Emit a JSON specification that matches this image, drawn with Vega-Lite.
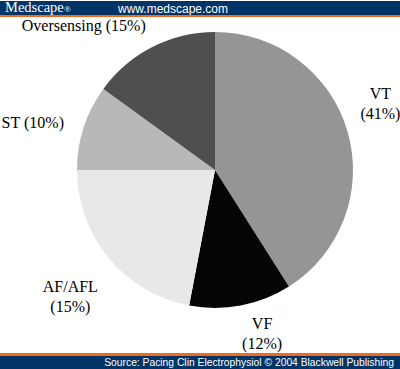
{
  "$schema": "https://vega.github.io/schema/vega-lite/v6.json",
  "padding": 0,
  "background": "white",
  "spacing": 0,
  "bounds": "flush",
  "align": "each",
  "columns": 2,
  "config": {"view": {"stroke": null}, "concat": {"spacing": 0}},
  "concat": [
    {
      "width": 30, "height": 14,
      "view": {"fill": "#003366", "stroke": null},
      "data": {"values": [{}]}, "mark": "text", "encoding": {}
    },
    {
      "width": 370, "height": 14,
      "view": {"fill": "#003366", "stroke": null},
      "data": {"values": [{"brand": "Medscape", "reg": "®", "site": "www.medscape.com"}]},
      "layer": [
        {
          "mark": {"type": "text", "align": "left", "baseline": "middle", "dx": -210, "dy": 0, "font": "Liberation Serif", "fontSize": 14.5, "color": "white"},
          "encoding": {"text": {"field": "brand"}}
        },
        {
          "mark": {"type": "text", "align": "left", "baseline": "middle", "dx": -151, "dy": 1, "font": "Liberation Serif", "fontSize": 9, "color": "white"},
          "encoding": {"text": {"field": "reg"}}
        },
        {
          "mark": {"type": "text", "align": "center", "baseline": "middle", "dx": -42, "dy": 1, "font": "Liberation Sans", "fontSize": 12, "color": "white"},
          "encoding": {"text": {"field": "site"}}
        }
      ]
    },
    {
      "width": 30, "height": 2,
      "view": {"fill": "#f26b1d", "stroke": null},
      "data": {"values": [{}]}, "mark": "text", "encoding": {}
    },
    {
      "width": 370, "height": 2,
      "view": {"fill": "#f26b1d", "stroke": null},
      "data": {"values": [{}]}, "mark": "text", "encoding": {}
    },
    {
      "width": 30, "height": 336,
      "data": {"values": [{}]}, "mark": "text", "encoding": {}
    },
    {
      "width": 370,
      "height": 306,
      "data": {
        "values": [
          {"category": "VT", "value": 41, "label": "VT\n(41%)", "rank": 1},
          {"category": "VF", "value": 12, "label": "VF\n(12%)", "rank": 2},
          {"category": "AF/AFL", "value": 22, "label": "AF/AFL\n(15%)", "rank": 3},
          {"category": "ST", "value": 10, "label": "ST (10%)", "rank": 4},
          {"category": "Oversensing", "value": 15, "label": "Oversensing (15%)", "rank": 5}
        ]
      },
      "encoding": {
        "theta": {"field": "value", "type": "quantitative", "stack": true},
        "order": {"field": "rank", "type": "quantitative"}
      },
      "layer": [
        {
          "mark": {"type": "arc", "radius": 138},
          "encoding": {
            "color": {
              "field": "category",
              "type": "nominal",
              "scale": {"domain": ["VT", "VF", "AF/AFL", "ST", "Oversensing"], "range": ["#959595", "#050505", "#e8e8e8", "#b8b8b8", "#4f4f4f"]},
              "legend": null
            }
          }
        },
        {
          "mark": {"type": "text", "radius": 182, "thetaOffset": -0.148, "font": "Liberation Serif", "fontSize": 16, "lineBreak": "\n", "lineHeight": 20, "color": "black"},
          "encoding": {"detail": {"field": "category"}, "text": {"condition": {"test": "datum.category === 'VT'", "field": "label"}, "value": ""}}
        },
        {
          "mark": {"type": "text", "radius": 161, "thetaOffset": -0.108, "font": "Liberation Serif", "fontSize": 16, "lineBreak": "\n", "lineHeight": 20, "color": "black"},
          "encoding": {"detail": {"field": "category"}, "text": {"condition": {"test": "datum.category === 'VF'", "field": "label"}, "value": ""}}
        },
        {
          "mark": {"type": "text", "radius": 180, "dx": -6, "dy": 2, "font": "Liberation Serif", "fontSize": 16, "lineBreak": "\n", "lineHeight": 20, "color": "black"},
          "encoding": {"detail": {"field": "category"}, "text": {"condition": {"test": "datum.category === 'AF/AFL'", "field": "label"}, "value": ""}}
        },
        {
          "mark": {"type": "text", "radius": 180, "dx": -11, "dy": 9, "font": "Liberation Serif", "fontSize": 16, "lineBreak": "\n", "lineHeight": 20, "color": "black"},
          "encoding": {"detail": {"field": "category"}, "text": {"condition": {"test": "datum.category === 'ST'", "field": "label"}, "value": ""}}
        },
        {
          "mark": {"type": "text", "radius": 195, "thetaOffset": -0.267, "font": "Liberation Serif", "fontSize": 16, "lineBreak": "\n", "lineHeight": 20, "color": "black"},
          "encoding": {"detail": {"field": "category"}, "text": {"condition": {"test": "datum.category === 'Oversensing'", "field": "label"}, "value": ""}}
        }
      ]
    },
    {
      "width": 30, "height": 3,
      "view": {"fill": "#f26b1d", "stroke": null},
      "data": {"values": [{}]}, "mark": "text", "encoding": {}
    },
    {
      "width": 370, "height": 3,
      "view": {"fill": "#f26b1d", "stroke": null},
      "data": {"values": [{}]}, "mark": "text", "encoding": {}
    },
    {
      "width": 30, "height": 14,
      "view": {"fill": "#003366", "stroke": null},
      "data": {"values": [{}]}, "mark": "text", "encoding": {}
    },
    {
      "width": 370, "height": 14,
      "view": {"fill": "#003366", "stroke": null},
      "data": {"values": [{"source": "Source: Pacing Clin Electrophysiol © 2004 Blackwell Publishing"}]},
      "mark": {"type": "text", "align": "right", "baseline": "middle", "dx": 179, "font": "Liberation Sans", "fontSize": 10.3, "color": "white"},
      "encoding": {"text": {"field": "source"}}
    }
  ]
}
